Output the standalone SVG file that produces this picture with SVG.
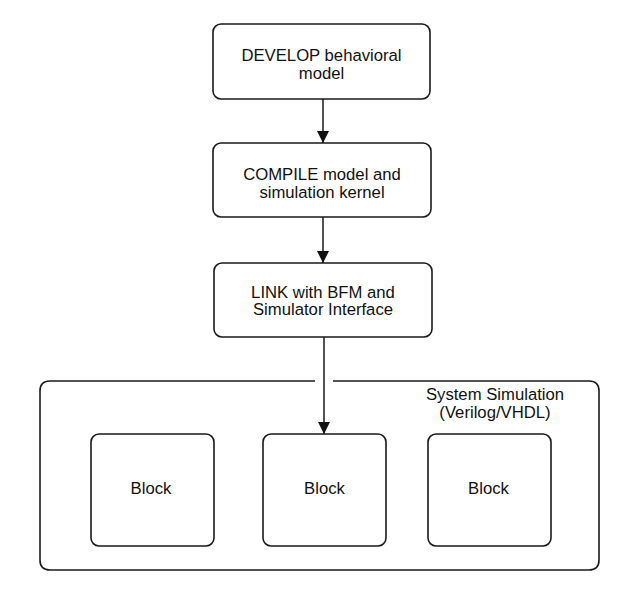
<svg xmlns="http://www.w3.org/2000/svg" width="635" height="596" viewBox="0 0 635 596">
<defs>
<style>
.box{fill:#fff;stroke:#1a1a1a;stroke-width:1.6}
.frame{fill:none;stroke:#1a1a1a;stroke-width:1.6}
.lbl{font-family:"Liberation Sans",Arial,sans-serif;font-size:16.7px;fill:#111;text-anchor:middle}
.conn{stroke:#1a1a1a;stroke-width:1.5;fill:none}
</style>
<marker id="arr" viewBox="0 0 12 12" refX="12" refY="6" markerWidth="12" markerHeight="12" markerUnits="userSpaceOnUse" orient="auto">
<path d="M0,0 L12,6 L0,12 Z" fill="#111"/>
</marker>
</defs>
<rect width="635" height="596" fill="#fff"/>
<g id="system-simulation">
<path class="frame" d="M333,381 H589 Q599,381 599,391 V560 Q599,570 589,570 H50 Q40,570 40,560 V391 Q40,381 50,381 H315"/>
<text class="lbl" x="495" y="400">System Simulation</text>
<text class="lbl" x="495" y="418">(Verilog/VHDL)</text>
</g>
<g id="develop">
<rect class="box" x="213" y="24" width="217" height="75" rx="8"/>
<text class="lbl" x="321.5" y="60.5">DEVELOP behavioral</text>
<text class="lbl" x="321.5" y="78.5">model</text>
</g>
<g id="compile">
<rect class="box" x="213" y="143" width="218" height="74" rx="8"/>
<text class="lbl" x="322" y="180">COMPILE model and</text>
<text class="lbl" x="322" y="197.5">simulation kernel</text>
</g>
<g id="link">
<rect class="box" x="214" y="263" width="218" height="74" rx="8"/>
<text class="lbl" x="323" y="297.5">LINK with BFM and</text>
<text class="lbl" x="323" y="315">Simulator Interface</text>
</g>
<g id="block1">
<rect class="box" x="91" y="434" width="123" height="112" rx="8"/>
<text class="lbl" x="151" y="494">Block</text>
</g>
<g id="block2">
<rect class="box" x="263" y="434" width="123" height="112" rx="8"/>
<text class="lbl" x="324.5" y="494">Block</text>
</g>
<g id="block3">
<rect class="box" x="428" y="434" width="123" height="112" rx="8"/>
<text class="lbl" x="488.5" y="494">Block</text>
</g>
<g id="connectors">
<line class="conn" x1="323" y1="99" x2="323" y2="143" marker-end="url(#arr)"/>
<line class="conn" x1="323" y1="217" x2="323" y2="263" marker-end="url(#arr)"/>
<line class="conn" x1="324" y1="337" x2="324" y2="434" marker-end="url(#arr)"/>
</g>
</svg>
